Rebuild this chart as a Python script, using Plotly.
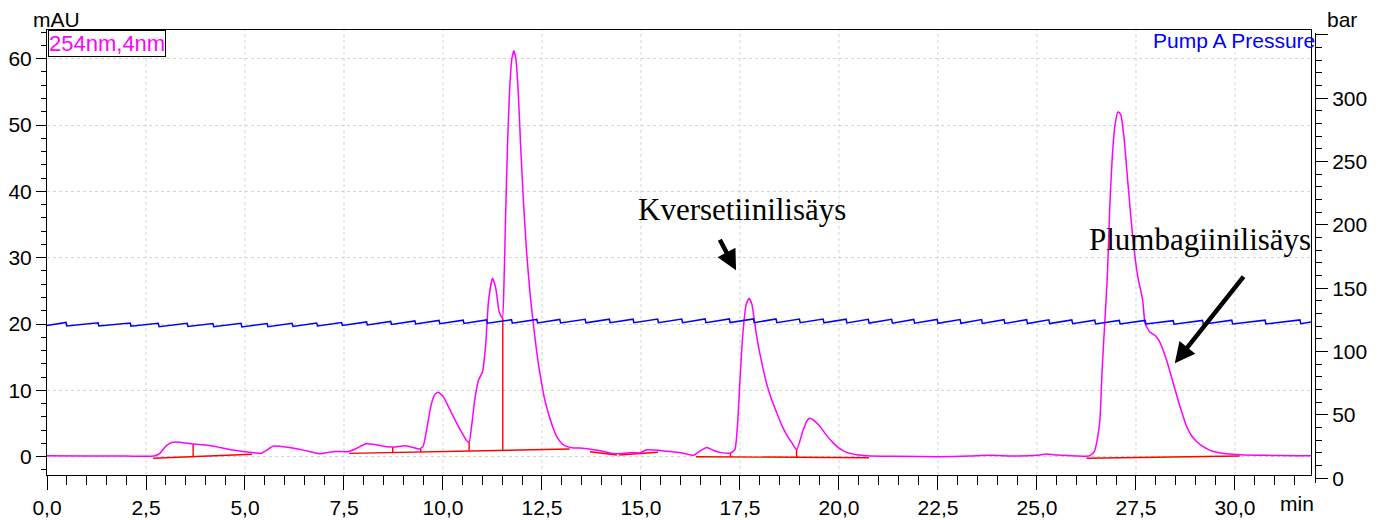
import numpy as np
import plotly.graph_objects as go

# --- 254 nm absorbance trace (retention time in min, signal in mAU) ---
uv_time = [0.0, 1.0, 2.0, 2.7, 2.85, 3.0, 3.15, 3.3, 3.5, 3.7, 3.95, 4.15, 4.4, 4.7, 5.0,
           5.25, 5.4, 5.55, 5.72, 5.9, 6.2, 6.5, 6.75, 6.9, 7.1, 7.3, 7.6, 7.8, 8.05,
           8.3, 8.6, 8.75, 9.05, 9.25, 9.4, 9.5, 9.6, 9.7, 9.8, 9.88, 10.0, 10.15, 10.3,
           10.45, 10.6, 10.66, 10.72, 10.8, 10.9, 11.0, 11.08, 11.15, 11.25, 11.33, 11.42,
           11.5, 11.54, 11.58, 11.63, 11.68, 11.74, 11.79, 11.84, 11.9, 11.96, 12.03, 12.11,
           12.2, 12.28, 12.38, 12.49, 12.57, 12.66, 12.77, 12.87, 13.0, 13.12, 13.3, 13.46,
           13.8, 14.05, 14.3, 14.55, 14.8, 14.97, 15.14, 15.48, 15.73, 16.0, 16.32, 16.5,
           16.66, 16.85, 17.0, 17.26, 17.37, 17.44, 17.5, 17.58, 17.66, 17.73, 17.8, 17.85,
           17.92, 18.0, 18.17, 18.3, 18.43, 18.55, 18.68, 18.82, 18.93, 19.02, 19.1, 19.2,
           19.27, 19.38, 19.52, 19.7, 19.86, 20.0, 20.19, 20.45, 20.7, 21.5, 22.5, 23.3,
           23.8, 24.5, 25.0, 25.24, 25.5, 26.0, 26.25, 26.34, 26.45, 26.52, 26.59, 26.65,
           26.72, 26.78, 26.84, 26.9, 26.97, 27.05, 27.12, 27.2, 27.3, 27.42, 27.55, 27.67,
           27.73, 27.85, 27.98, 28.1, 28.27, 28.44, 28.61, 28.78, 28.9, 29.03, 29.2, 29.37,
           29.6, 29.79, 30.13, 30.8, 31.46, 31.92]
uv_mau = [0.15, 0.12, 0.1, 0.1, 0.5, 1.6, 2.15, 2.2, 2.05, 1.9, 1.8, 1.65, 1.35, 1.0, 0.75,
          0.55, 0.5, 1.0, 1.6, 1.55, 1.3, 0.95, 0.6, 0.45, 0.65, 0.8, 0.75, 1.2, 1.95,
          1.8, 1.5, 1.45, 1.65, 1.4, 1.15, 1.6, 4.5, 7.8, 9.4, 9.7, 9.1, 7.4, 5.6,
          3.9, 2.4, 2.2, 4.5, 8.5, 11.6, 12.8, 17.0, 23.5, 26.9, 25.5, 21.8,
          20.9, 26.0, 36.0, 47.0, 55.0, 60.0, 61.2, 60.0, 55.0, 47.0, 38.7, 31.0,
          24.5, 20.1, 15.2, 11.1, 8.6, 6.6, 4.5, 3.05, 2.0, 1.55, 1.3, 1.3,
          1.05, 0.8, 0.45, 0.5, 0.65, 0.55, 1.05, 0.95, 0.8, 0.6, 0.2, 0.9,
          1.4, 0.9, 0.65, 0.55, 1.05, 5.0, 11.6, 19.1, 23.0, 23.9, 23.0, 21.1,
          18.2, 15.6, 11.1, 8.6, 6.6, 4.8, 3.3, 2.0, 1.05, 2.5, 4.1, 5.5,
          5.8, 5.4, 4.55, 3.1, 2.05, 1.3, 0.65, 0.3, 0.15, 0.05, 0.0, 0.1,
          0.2, 0.1, 0.2, 0.4, 0.25, 0.1, 0.05, 0.15, 0.8, 2.5, 5.6, 13.6,
          21.1, 27.5, 38.0, 45.0, 50.0, 52.0, 51.5, 48.0, 41.0, 33.0, 27.0, 23.6,
          20.1, 18.8, 18.3, 17.3, 14.6, 11.1, 7.6, 4.55, 3.2, 2.3, 1.5, 0.95,
          0.6, 0.45, 0.3, 0.2, 0.15, 0.15]

# --- Pump A pressure (bar): stroke times and level just before / after each drop ---
pump_drop_time = [0.48, 1.29, 2.10, 2.81, 3.54, 4.19, 4.90, 5.56, 6.19, 6.81, 7.44, 8.07,
                  8.68, 9.29, 9.90, 10.51, 11.10, 11.73, 12.37, 12.95, 13.59, 14.20, 14.80,
                  15.42, 16.03, 16.62, 17.23, 17.84, 18.41, 19.00, 19.60, 20.18, 20.74,
                  21.33, 21.89, 22.48, 23.06, 23.60, 24.17, 24.74, 25.30, 25.88, 26.46,
                  27.08, 27.73, 28.44, 29.18, 29.92, 30.76, 31.64]
pump_before = [123.0, 122.8, 122.6, 122.4, 122.4, 122.2, 122.3, 122.2, 122.4, 122.6, 123.0,
               123.4, 123.8, 124.2, 124.6, 124.8, 125.0, 125.2, 125.4, 125.4, 125.5, 125.6,
               125.6, 125.7, 125.7, 125.8, 125.8, 125.8, 125.8, 125.7, 125.7, 125.6, 125.5,
               125.5, 125.4, 125.4, 125.3, 125.3, 125.2, 125.2, 125.1, 125.0, 124.8, 124.6,
               124.6, 124.4, 124.6, 124.8, 124.8, 125.0]
pump_after = [120.3, 120.2, 120.0, 119.6, 119.8, 119.6, 119.5, 119.6, 119.8, 120.2, 120.6,
              121.0, 121.4, 121.8, 122.0, 122.2, 122.4, 122.4, 122.6, 122.6, 122.7, 122.8,
              122.8, 122.8, 122.8, 122.8, 122.9, 122.8, 122.8, 122.8, 122.7, 122.6, 122.5,
              122.4, 122.4, 122.3, 122.3, 122.2, 122.2, 122.1, 122.1, 122.0, 121.8, 121.8,
              121.8, 121.6, 121.6, 121.8, 121.8, 122.0]
pump_start = 120.6
pump_end = 123.4
run_end = 31.92

# --- integration baselines (start/end time, start/end signal) ---
base_t0 = [2.68, 7.63, 13.71, 14.45, 16.39, 26.25]
base_a0 = [-0.24, 0.5, 0.75, 0.26, 0.0, -0.24]
base_t1 = [5.18, 13.2, 14.39, 15.43, 20.76, 30.12]
base_a1 = [0.36, 1.15, 0.26, 0.66, -0.15, 0.1]

# peak separation drop lines: time, signal at the top, baseline they stand on
drop_time = [3.69, 8.73, 9.44, 10.66, 11.51, 17.26, 18.93]
drop_top = [1.9, 1.45, 1.15, 2.2, 20.9, 0.55, 1.05]
drop_base = [0, 1, 1, 1, 1, 4, 4]

# pressure axis ticks (the top one is drawn without a label)
bar_ticks = [0, 50, 100, 150, 200, 250, 300, 350]
bar_tick_text = ["0", "50", "100", "150", "200", "250", "300", ""]

# --- pressure polyline ---
p_x, p_y = [0.0], [pump_start]
for t, hi, lo in zip(pump_drop_time, pump_before, pump_after):
    p_x += [t, t + 0.02]
    p_y += [hi, lo]
p_x.append(run_end)
p_y.append(pump_end)

# --- baseline + drop line polyline ---
r_x, r_y = [], []
for t0, a0, t1, a1 in zip(base_t0, base_a0, base_t1, base_a1):
    r_x += [t0, t1, None]
    r_y += [a0, a1, None]
for t, top, k in zip(drop_time, drop_top, drop_base):
    bottom = float(np.interp(t, [base_t0[k], base_t1[k]], [base_a0[k], base_a1[k]]))
    r_x += [t, t, None]
    r_y += [bottom, top, None]

W, H = 1381, 520
ML, MR, MT, MB = 47, 66, 30, 37
plot_w = W - ML - MR
plot_h = H - MT - MB
x_dom_end = (1311 - ML) / plot_w
y_dom_start = (H - MB - 475) / plot_h          # absorbance panel bottom edge
y2_dom_end = (H - MB - 32.7) / plot_h          # pressure scale top end

FONT = "Liberation Sans, Arial, sans-serif"
SERIF = "Liberation Serif, Times New Roman, serif"

fig = go.Figure()
fig.add_trace(go.Scatter(x=p_x, y=p_y, xaxis="x", yaxis="y2", mode="lines",
                         line=dict(color="#0000ff", width=1.5), hoverinfo="skip"))
fig.add_trace(go.Scatter(x=r_x, y=r_y, mode="lines",
                         line=dict(color="#ff0000", width=1.4), hoverinfo="skip"))
fig.add_trace(go.Scatter(x=uv_time, y=uv_mau, mode="lines",
                         line=dict(color="#ff00ff", width=1.5, shape="spline", smoothing=0.5),
                         hoverinfo="skip"))

axis_common = dict(showline=True, linecolor="black", linewidth=1, zeroline=False,
                   automargin=False, ticks="outside", tickcolor="black",
                   tickfont=dict(size=21, color="black"))

fig.update_layout(
    width=W, height=H,
    margin=dict(l=ML, r=MR, t=MT, b=MB, autoexpand=False),
    paper_bgcolor="white", plot_bgcolor="rgba(0,0,0,0)",
    showlegend=False,
    separators=", ",
    font=dict(family=FONT, size=21, color="black"),
    xaxis=dict(axis_common, domain=[0, x_dom_end], range=[0, run_end], anchor="y",
               tick0=0, dtick=2.5, tickformat=".1f", ticklen=14, mirror=True,
               showgrid=False,
               minor=dict(tick0=0, dtick=0.5, ticklen=9, ticks="outside",
                          tickcolor="black", showgrid=False)),
    yaxis=dict(axis_common, domain=[y_dom_start, 1], range=[-2.76, 64.33], anchor="x",
               tick0=0, dtick=10, ticklen=10,
               mirror=True, showgrid=True, gridcolor="#d4d4d4", griddash="dot",
               gridwidth=1,
               minor=dict(tick0=0, dtick=2, ticklen=5, ticks="outside",
                          tickcolor="black", showgrid=False)),
    yaxis2=dict(axis_common, domain=[0, y2_dom_end], side="right", anchor="free",
                position=1, range=[-3.7, 351.7], tickmode="array", tickvals=bar_ticks,
                ticktext=bar_tick_text, ticklen=12, showgrid=False,
                minor=dict(tickmode="linear", tick0=0, dtick=10, ticklen=6,
                           ticks="outside", tickcolor="black", showgrid=False)),
)

# vertical grid lines at every labelled time tick, limited to the absorbance panel
grid_times = [2.5, 5.0, 7.5, 10.0, 12.5, 15.0, 17.5, 20.0, 22.5, 25.0, 27.5, 30.0]
for gt in grid_times:
    fig.add_shape(type="line", xref="x", yref="y domain", x0=gt, x1=gt, y0=0, y1=1,
                  line=dict(color="#d4d4d4", width=1, dash="dot"), layer="below")

def px_x(px):
    return (px - ML) / plot_w

def px_y(py):
    return (H - MB - py) / plot_h

ann = [
    dict(text="mAU", x=px_x(56), y=px_y(19.5), xanchor="center", yanchor="middle",
         font=dict(size=21)),
    dict(text="bar", x=px_x(1342), y=px_y(19.5), xanchor="center", yanchor="middle",
         font=dict(size=21)),
    dict(text="min", x=px_x(1297), y=px_y(503.7), xanchor="center", yanchor="middle",
         font=dict(size=21)),
    dict(text="254nm,4nm", x=px_x(47.5), y=px_y(30), xanchor="left", yanchor="top",
         font=dict(size=22, color="#ff00ff"), bordercolor="black", borderwidth=1,
         borderpad=0, bgcolor="white"),
    dict(text="Pump A Pressure", x=px_x(1317), y=px_y(40), xanchor="right",
         yanchor="middle", font=dict(size=21, color="#0000ff")),
]
for a in ann:
    a.update(xref="paper", yref="paper", showarrow=False)

labels = [
    dict(text="Kversetiinilisäys", x=17.55, y=37.2),
    dict(text="Plumbagiinilisäys", x=29.12, y=32.7),
]
for a in labels:
    a.update(xref="x", yref="y", showarrow=False, xanchor="center", yanchor="middle",
             font=dict(family=SERIF, size=31, color="black"))

arrows = [
    dict(x=17.4, y=28.1, ax=-17, ay=-32),
    dict(x=28.48, y=14.1, ax=70, ay=-88),
]
for a in arrows:
    a.update(xref="x", yref="y", text="", showarrow=True, arrowhead=2, arrowsize=0.9,
             arrowwidth=4.5, arrowcolor="black", standoff=0)

fig.update_layout(annotations=ann + labels + arrows)

fig.write_html("out.html", config={"displayModeBar": False})
